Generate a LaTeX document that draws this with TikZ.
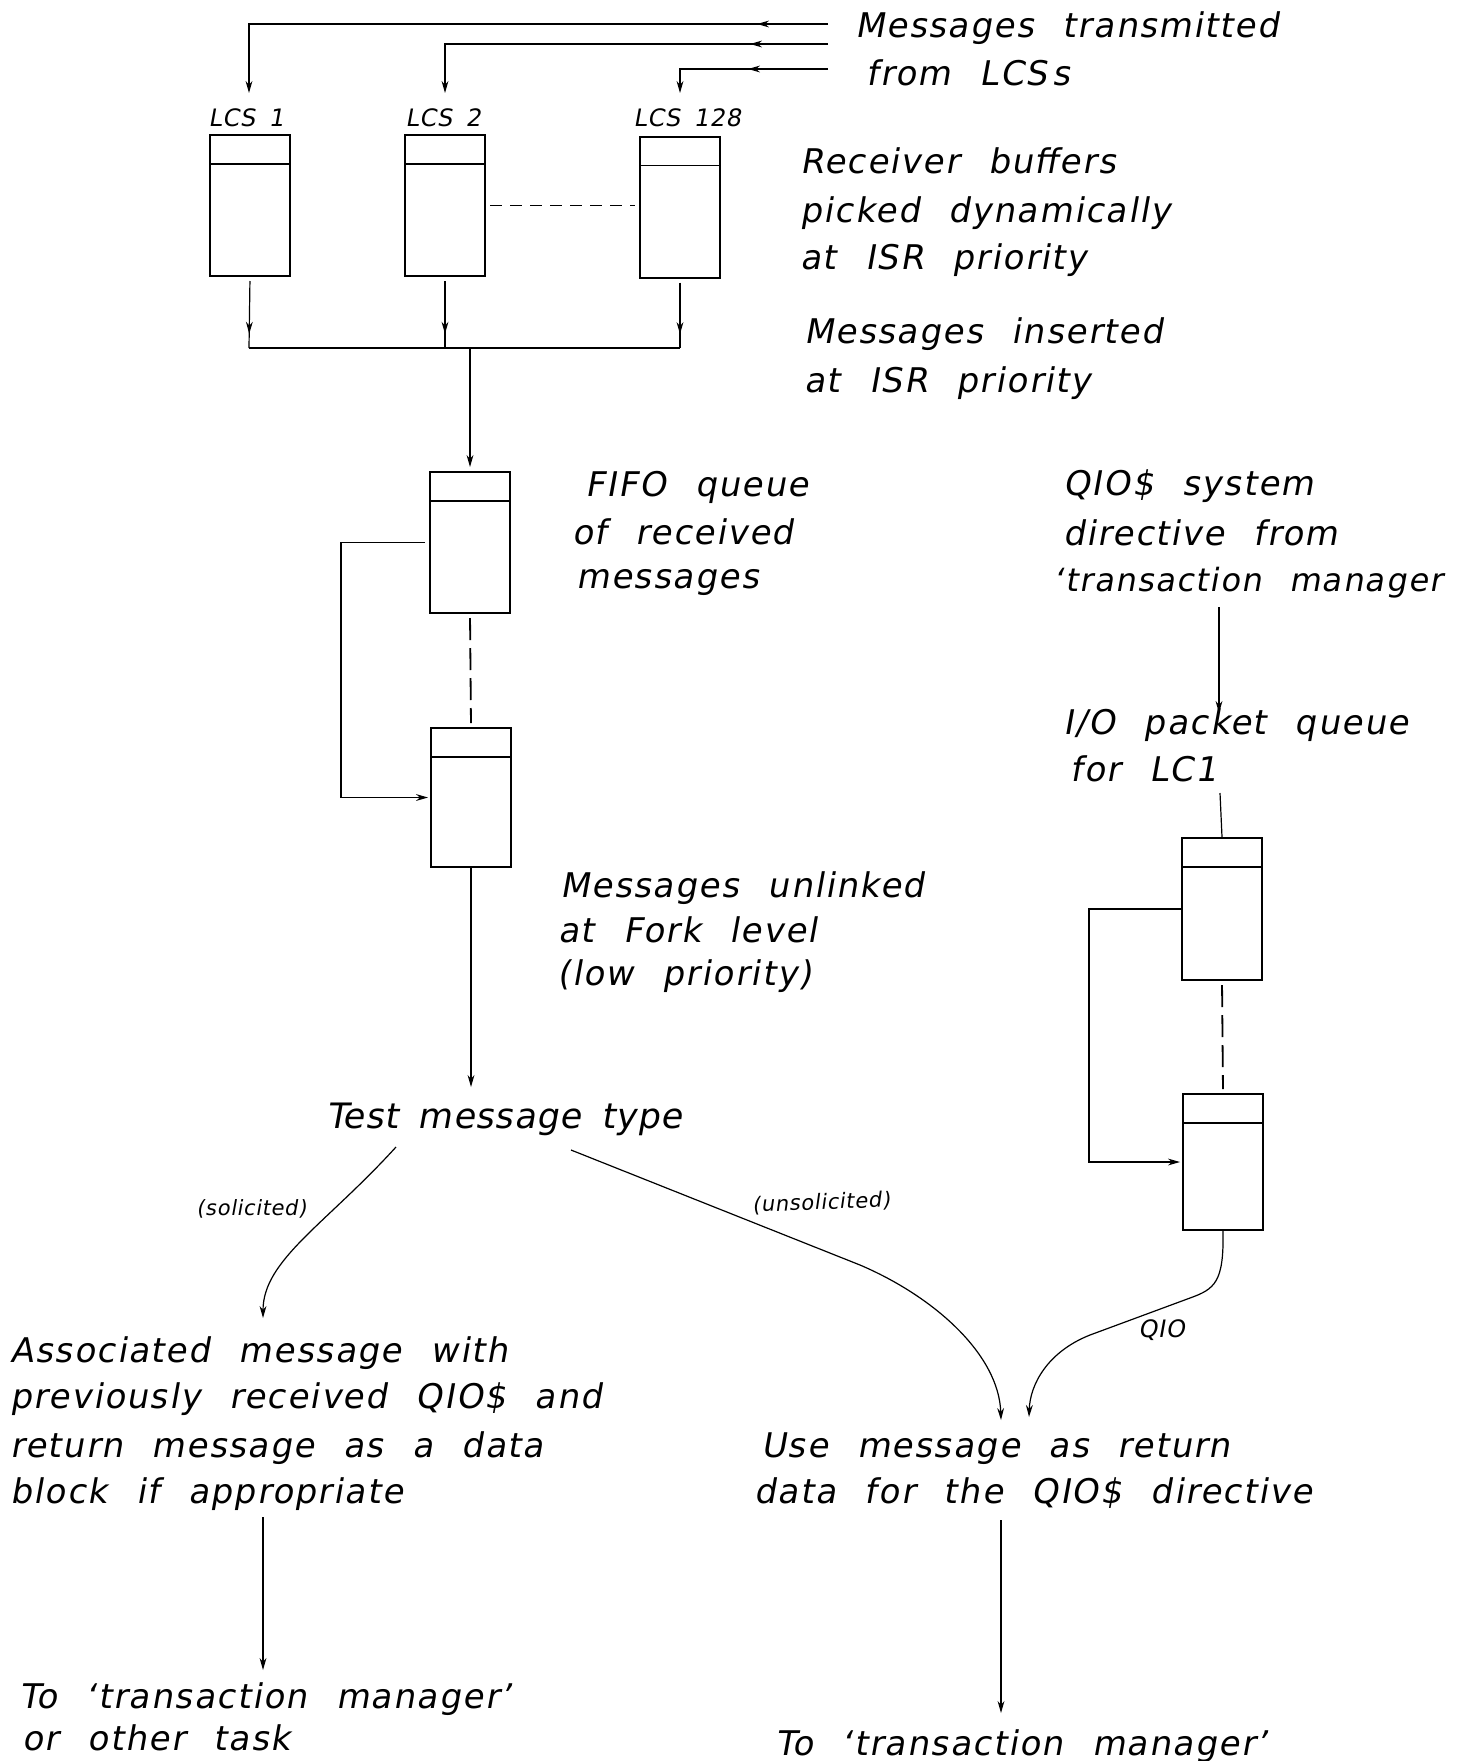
\documentclass[tikz,border=0pt]{standalone}
\usepackage{fontspec}
\newfontfamily\hand{DejaVu Sans}[FakeSlant=0.18, LetterSpace=5, WordSpace=2.3]
\newfontfamily\handlab{DejaVu Sans}[FakeSlant=0.18, LetterSpace=3, WordSpace=1.6]
\usetikzlibrary{arrows.meta, decorations.markings}
\begin{document}
\begin{tikzpicture}[x=0.5pt, y=-0.5pt,
  txt/.style={anchor=base west, inner sep=0pt, font=\hand\fontsize{17}{20}\selectfont},
  big/.style={txt, font=\handlab\fontsize{17.5}{20}\selectfont},
  lab/.style={txt, font=\handlab\fontsize{12}{14}\selectfont},
  tiny/.style={txt, font=\handlab\fontsize{10.5}{12}\selectfont},
  buf/.style={draw, line width=1pt, minimum width=40pt, minimum height=70.5pt, inner sep=0pt,
    path picture={\draw[line width=0.9pt] ([yshift=-14.5pt]path picture bounding box.north west) -- ([yshift=-14.5pt]path picture bounding box.north east);}},
  con/.style={line width=0.6pt},
  tip/.style={-{Stealth[length=6pt,width=3.4pt]}},
  midarrow/.style={postaction={decorate}, decoration={markings, mark=at position #1 with {\arrow{Stealth[length=6pt,width=3.4pt]}}}},
  qdash/.style={line width=0.9pt, dash pattern=on 11pt off 4pt},
]
\useasboundingbox (0,0) rectangle (1456,1761);

% ---- buffers ----
\node[buf] (L1) at (250,205.5) {};
\node[buf] (L2) at (445,205.5) {};
\node[buf] (L128) at (680,207) {};
\node[buf] (F1) at (470,542.5) {};
\node[buf, minimum height=69.5pt] (F2) at (471,797.5) {};
\node[buf, minimum height=71pt] (R1) at (1222,909) {};
\node[buf, minimum height=68pt] (R2) at (1223,1162) {};

% ---- LCS labels ----
\node[lab] (l1) at (208,126) {LCS 1};
\node[lab] (l2) at (405,126) {LCS 2};
\node[lab] (l3) at (633,126) {LCS 128};

% ---- texts ----
\node[txt] (tx1) at (855,37) {Messages transmitted};
\node[txt] (tx2) at (866,85) {from LCS\,s};
\node[txt] (rb1) at (800,173) {Receiver buffers};
\node[txt] (rb2) at (800,222) {picked dynamically};
\node[txt] (rb3) at (800,269) {at ISR priority};
\node[txt] (mi1) at (804,343) {Messages inserted};
\node[txt] (mi2) at (804,392) {at ISR priority};
\node[txt] (ff1) at (585,496) {FIFO queue};
\node[txt] (ff2) at (572,544) {of received};
\node[txt] (ff3) at (576,588) {messages};
\node[txt] (q1) at (1063,495) {QIO\$ system};
\node[txt] (q2) at (1063,545) {directive from};
\node[txt, font=\hand\fontsize{16}{19}\selectfont] (q3) at (1053,591) {‘transaction manager};
\node[txt] (io1) at (1063,734) {I/O packet queue};
\node[txt] (io2) at (1070,781) {for LC1};
\node[txt] (mu1) at (560,897) {Messages unlinked};
\node[txt] (mu2) at (558,942) {at Fork level};
\node[txt] (mu3) at (557,985) {(low priority)};
\node[big] (test) at (326,1128) {Test message type};
\node[tiny] (sol) at (196,1215) {(solicited)};
\node[tiny, rotate=2] (unsol) at (752,1212) {(unsolicited)};
\node[lab] (qiol) at (1138,1337) {QIO};
\node[txt] (as1) at (10,1362) {Associated message with};
\node[txt] (as2) at (10,1408) {previously received QIO\$ and};
\node[txt] (as3) at (10,1457) {return message as a data};
\node[txt] (as4) at (10,1503) {block if appropriate};
\node[txt] (us1) at (761,1457) {Use message as return};
\node[txt] (us2) at (754,1503) {data for the QIO\$ directive};
\node[txt] (to1) at (19,1708) {To ‘transaction manager’};
\node[txt] (to2) at (22,1750) {or other task};
\node[txt] (to3) at (775,1755) {To ‘transaction manager’};

% ---- coordinates ----
\coordinate (in1) at (828,24);
\coordinate (in2) at (828,44);
\coordinate (in3) at (828,69);
\coordinate (t1) at (249,93);
\coordinate (t2) at (445,93);
\coordinate (t3) at (680,93);
\coordinate (b1) at (249,348);
\coordinate (b2) at (445,348);
\coordinate (b3) at (680,348);
\coordinate (bm) at (470,348);
\coordinate (solA) at (396,1147);
\coordinate (solB) at (263,1318);
\coordinate (unA) at (571,1150);
\coordinate (unM) at (860,1265);
\coordinate (unB) at (1001,1420);
\coordinate (qA) at (1190,1298);
\coordinate (qM) at (1090,1335);
\coordinate (qB) at (1029,1417);
\coordinate (a1s) at (263,1517);
\coordinate (a1e) at (263,1670);
\coordinate (a2s) at (1001,1520);
\coordinate (a2e) at (1001,1713);
\coordinate (qs) at (1219,607);
\coordinate (qe) at (1219,713);
\coordinate (ios) at (1220,793);

% ---- connectors ----
\draw[con, tip, midarrow=35.5pt] (in1) -| (t1);
\draw[con, tip, midarrow=39pt] (in2) -| (t2);
\draw[con, tip, midarrow=40pt] (in3) -| (t3);

\draw[con, midarrow=0.8, shorten <=2pt] (L1.south) -- (b1);
\draw[con, midarrow=0.8, shorten <=2pt] (L2.south) -- (b2);
\draw[con, midarrow=0.8, shorten <=2pt] (L128.south) -- (b3);
\draw[con] (b1) -- (b3);
\draw[con, dash pattern=on 6pt off 4pt, line width=0.8pt, shorten <=2pt, shorten >=2pt] (L2.east) -- (L128.west |- L2.east);
\draw[con, tip, shorten >=2pt] (bm) -- (F1.north);

\draw[qdash, shorten <=2pt, shorten >=2pt] (F1.south) -- (F2.north);
\draw[con, tip, shorten <=2pt, shorten >=1pt] (F1.west) -- ++(-88,0) |- (F2.west);
\draw[con, tip] (F2.south) -- (F2.south |- 0,1087);

\draw[con, tip] (solA) .. controls (325,1225) and (263,1260) .. (solB);
\draw[con, tip] (unA) -- (unM) .. controls (935,1297) and (999,1355) .. (unB);
\draw[con, tip] (R2.south) .. controls (1224,1282) and (1215,1289) .. (qA) -- (qM) .. controls (1047,1352) and (1030,1385) .. (qB);

\draw[con, tip] (a1s) -- (a1e);
\draw[con, tip] (a2s) -- (a2e);

\draw[con, tip] (qs) -- (qe);
\draw[con] (ios) -- (R1.north);
\draw[qdash, shorten <=2pt, shorten >=2pt] (R1.south) -- (R2.north);
\draw[con, tip, shorten >=1pt] (R1.west) -- ++(-92,0) |- (R2.west);
\end{tikzpicture}
\end{document}
